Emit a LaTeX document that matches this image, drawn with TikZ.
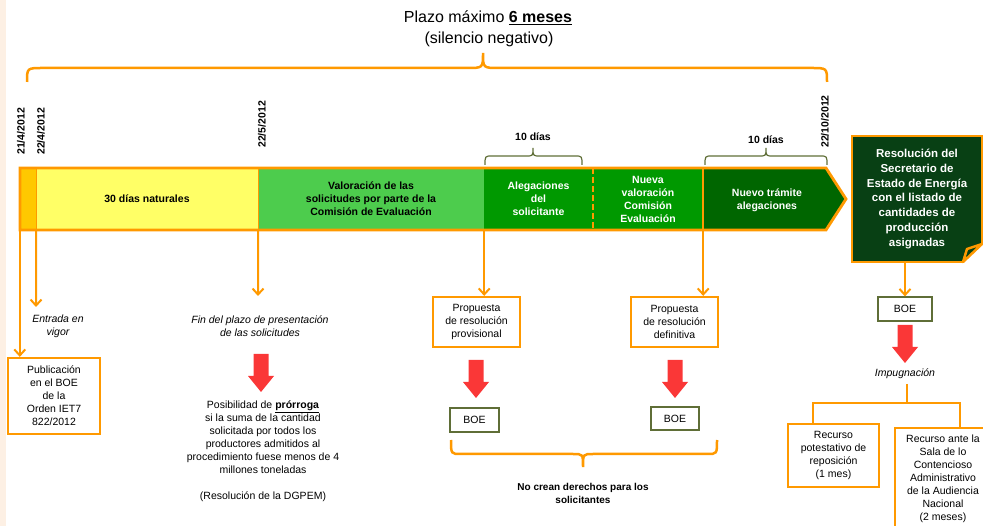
\documentclass[tikz,border=0pt]{standalone}
\usepackage{fontspec}
\setmainfont{Liberation Sans}
\usetikzlibrary{arrows.meta}
\definecolor{orc}{RGB}{255,153,0}
\definecolor{orseg}{RGB}{255,200,0}
\definecolor{yel}{RGB}{255,255,102}
\definecolor{lgr}{RGB}{77,204,77}
\definecolor{mgr}{RGB}{0,153,0}
\definecolor{dgr}{RGB}{0,102,0}
\definecolor{resgr}{RGB}{8,64,20}
\definecolor{olv}{RGB}{95,110,55}
\definecolor{redc}{RGB}{250,55,55}
\definecolor{beige}{RGB}{253,240,228}
\newcommand\BraceDraw[8]{%
\draw[#1] (#2,#5) .. controls (#2,#6) .. ({#2+#8},#6) -- ({#4-#8},#6) .. controls (#4,#6) .. (#4,#7) .. controls (#4,#6) .. ({#4+#8},#6) -- ({#3-#8},#6) .. controls (#3,#6) .. (#3,#5);}
\tikzset{
  txt/.style={font=\fontsize{10.5}{13}\selectfont, align=center, inner sep=0pt},
  itxt/.style={font=\fontsize{10.5}{13}\selectfont\itshape, align=center, inner sep=0pt},
  btxt/.style={font=\fontsize{10}{13}\selectfont\bfseries, align=center, inner sep=0pt},
  obox/.style={txt, draw=orc, line width=2.2pt, fill=white},
  boebox/.style={txt, draw=olv, line width=1.2pt, minimum width=49pt, minimum height=24pt},
  conn/.style={draw=orc, line width=2pt, -{Straight Barb[length=6pt,width=11pt]}},
  tree/.style={draw=orc, line width=2.5pt, line join=miter},
  date/.style={rotate=90, anchor=west, font=\fontsize{10.5}{12}\selectfont\bfseries, inner sep=0pt},
  seg/.style={minimum height=62pt, inner sep=0pt, font=\fontsize{10.5}{13}\selectfont\bfseries, align=center},
  redarrow/.pic={\fill[redc] (-7.5,0) -- (7.5,0) -- (7.5,22) -- (13,22) -- (0,38) -- (-13,22) -- (-7.5,22) -- cycle;}
}
\begin{document}
\begin{tikzpicture}[x=1pt,y=-1pt]
\useasboundingbox (0,0) rectangle (983,526);
\fill[beige] (0,0) rectangle (6,526);

% title
\node[font=\fontsize{16}{19}\selectfont, inner sep=0pt] (t1) at (488,18) {Plazo máximo \textbf{\underline{6 meses}}};
\node[font=\fontsize{16}{19}\selectfont, inner sep=0pt] (t2) at (489,39) {(silencio negativo)};
\BraceDraw{orc,line width=2.5pt}{27}{827}{483}{82}{68}{53}{16}

% dates
\node[date] (d1) at (21,155) {21/4/2012};
\node[date] (d2) at (41,155) {22/4/2012};
\node[date] (d3) at (262,148) {22/5/2012};
\node[date] (d4) at (825,148) {22/10/2012};

% small braces
\BraceDraw{olv,line width=1.2pt}{485}{582}{533}{165}{156}{148}{7}
\BraceDraw{olv,line width=1.2pt}{705}{827}{766}{165}{156}{148}{7}
\node[btxt, font=\fontsize{10.5}{13}\selectfont\bfseries] (l1) at (533,137) {10 días};
\node[btxt, font=\fontsize{10.5}{13}\selectfont\bfseries] (l2) at (766,140) {10 días};

% bar
\node[seg, fill=orseg, minimum width=16pt] (s0) at (28,199) {};
\node[seg, fill=yel, minimum width=222pt] (s1) at (147,199) {30 días naturales};
\node[seg, fill=lgr, minimum width=226pt] (s2) at (371,199) {Valoración de las\\solicitudes por parte de la\\Comisión de Evaluación};
\node[seg, fill=mgr, text=white, minimum width=109pt] (s3) at (538.5,199) {Alegaciones\\del\\solicitante};
\node[seg, fill=mgr, text=white, minimum width=110pt] (s4) at (648,199) {Nueva\\valoración\\Comisión\\Evaluación};
\fill[dgr] (703,168) -- (826,168) -- (846,199) -- (826,230) -- (703,230) -- cycle;
\node[seg, text=white] (s5) at (767,200) {Nuevo trámite\\alegaciones};
\draw[orc,line width=1.2pt] (s0.north east) -- (s0.south east);
\draw[orc,line width=1.2pt] (s1.north east) -- (s1.south east);
\draw[orc,line width=2pt,dash pattern=on 6pt off 3pt] (s3.north east) -- (s3.south east);
\draw[orc,line width=2pt] (s4.north east) -- (s4.south east);
\draw[orc,line width=2.8pt,line join=miter] (20,168) -- (826,168) -- (846,199) -- (826,230) -- (20,230) -- cycle;

% resolution box
\node[font=\fontsize{11.5}{14.7}\selectfont\bfseries, align=center, text=white, fill=resgr, draw=orc, line width=2.8pt, minimum width=130pt, minimum height=126pt, inner sep=0pt] (res) at (917,199) {Resolución del\\Secretario de\\Estado de Energía\\con el listado de\\cantidades de\\producción\\asignadas};
\fill[white] (961,265) -- (986,265) -- (986,241) -- cycle;
\draw[orc, line width=2.5pt, fill=resgr, line join=round] (963,262) -- (967,249) -- (982,244) -- cycle;

% lower left
\node[obox, minimum width=92pt, minimum height=76pt] (pub) at (54,396) {Publicación\\en el BOE\\de la\\Orden IET7\\822/2012};
\node[itxt] (entr) at (58,326) {Entrada en\\vigor};
\node[itxt] (fin) at (260,326) {Fin del plazo de presentación\\de las solicitudes};
\node[txt] (pror) at (263,451) {Posibilidad de \textbf{\underline{prórroga}}\\si la suma de la cantidad\\solicitada por todos los\\productores admitidos al\\procedimiento fuese menos de 4\\millones toneladas\\[13pt](Resolución de la DGPEM)};
\coordinate (e1) at (36,307);
\coordinate (e2) at (258,296);
\draw[conn] (s0.south west) -- (s0.south west |- pub.north);
\draw[conn] (s0.south east) -- (e1);
\draw[conn] (s1.south east) -- (e2);

% middle
\node[obox, minimum width=87pt, minimum height=50pt] (prov) at (476.5,322) {Propuesta\\de resolución\\provisional};
\node[obox, minimum width=87pt, minimum height=50pt] (def) at (674.5,322) {Propuesta\\de resolución\\definitiva};
\draw[conn] (s2.south east) -- (s2.south east |- prov.north);
\draw[conn] (s4.south east) -- (s4.south east |- def.north);
\node[boebox] (boe1) at (474.5,420) {BOE};
\node[boebox, minimum width=48pt, minimum height=23pt] (boe2) at (675,418.5) {BOE};
\pic at (261,354) {redarrow};
\pic at (476,360) {redarrow};
\pic at (675,360) {redarrow};
\BraceDraw{orc,line width=2.5pt}{451}{717}{583}{440}{454}{467}{10}
\node[btxt] (nocrean) at (583,493.5) {No crean derechos para los\\solicitantes};

% right
\node[boebox, minimum width=54pt] (boe3) at (905,309) {BOE};
\draw[conn] (boe3.north |- res.south) -- (boe3.north);
\pic at (905,325) {redarrow};
\node[itxt] (imp) at (905,374) {Impugnación};
\node[obox, minimum width=91pt, minimum height=63pt] (rec1) at (833.5,455.5) {Recurso\\potestativo de\\reposición\\(1 mes)};
\node[obox, anchor=north west, minimum width=100pt, minimum height=112pt] (rec2) at (894,427) {};
\node[txt] (rec2t) at (943,479) {Recurso ante la\\Sala de lo\\Contencioso\\Administrativo\\de la Audiencia\\Nacional\\(2 meses)};
\coordinate (j0) at (907,384);
\coordinate (j) at (907,403);
\coordinate (jl) at (813,403);
\coordinate (jr) at (960,403);
\draw[tree] (j0) -- (j);
\draw[tree] (jl |- rec1.north) -- (jl) -- (jr) -- (jr |- rec2.north);
\end{tikzpicture}
\end{document}
